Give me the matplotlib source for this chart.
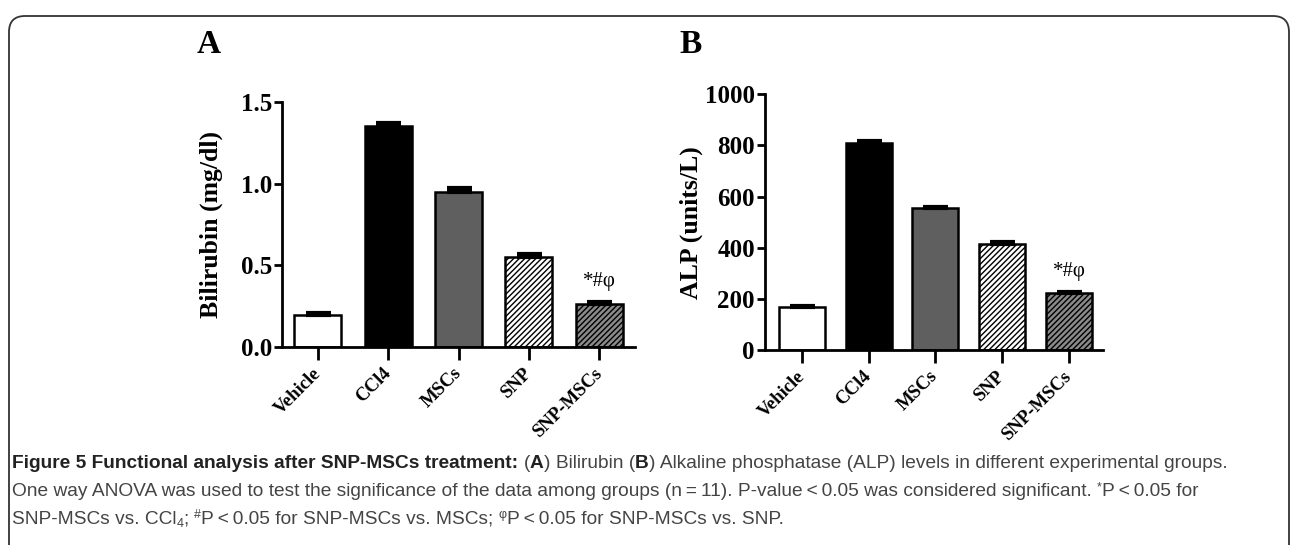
import matplotlib
matplotlib.use('Agg')
import numpy as np
from matplotlib import pyplot as plt
from matplotlib.patches import FancyBboxPatch
from matplotlib.transforms import IdentityTransform, offset_copy

groups = ['Vehicle', 'CCl4', 'MSCs', 'SNP', 'SNP-MSCs']
bilirubin = [0.196, 1.35, 0.95, 0.553, 0.263]
bilirubinErr = [0.010, 0.020, 0.025, 0.015, 0.012]
alp = [167, 811, 554, 415, 222]
alpErr = [5, 6, 7, 9, 6]
barColors = ['white', 'black', '#5f5f5f', 'white', '#8a8a8a']
barHatches = [None, None, None, '//////', '//////']
sigLabel = '*#\u03c6'

serif = ['Liberation Serif', 'DejaVu Serif']
narrow = ['Liberation Sans Narrow', 'Liberation Sans', 'DejaVu Sans']

plt.rcParams['hatch.linewidth'] = 1.0
plt.rcParams['font.family'] = serif

W, H = 1293, 545
fig = plt.figure(figsize=(W / 100, H / 100), dpi=100)

# rounded frame round the whole figure
frame = FancyBboxPatch((9, -20), 1280, 549, boxstyle='round,pad=0,rounding_size=16',
                       transform=IdentityTransform(), facecolor='none',
                       edgecolor='#333333', linewidth=1.3)
fig.patches.append(frame)


def panel(rect, values, errs, ylim, yticks, ylabel, width, xlim, labelpad):
    ax = fig.add_axes(rect)
    x = np.arange(len(values))
    for i in range(len(values)):
        ax.bar(x[i], values[i], width=width, color=barColors[i], edgecolor='black',
               linewidth=1.8, hatch=barHatches[i], zorder=2)
    ax.errorbar(x, values, yerr=[np.zeros(len(errs)), errs], fmt='none', ecolor='black',
                elinewidth=2, capsize=9, capthick=3, zorder=3)
    ax.set_xlim(xlim)
    ax.set_ylim(ylim)
    ax.set_yticks(yticks)
    ax.set_xticks(x)
    ax.set_xticklabels(groups, rotation=45, ha='right', va='center', rotation_mode='anchor',
                       fontsize=13.5, fontweight='bold')
    ax.tick_params(axis='x', length=9, width=2, pad=8)
    ax.tick_params(axis='y', length=6, width=2, labelsize=18, pad=1)
    for t in ax.get_yticklabels():
        t.set_fontweight('bold')
    for s in ['top', 'right']:
        ax.spines[s].set_visible(False)
    for s in ['left', 'bottom']:
        ax.spines[s].set_linewidth(2)
    ax.set_ylabel(ylabel, fontsize=18.5, fontweight='bold', labelpad=labelpad)
    ax.patch.set_alpha(0)
    ax.text(x[-1], values[-1] + errs[-1], sigLabel, ha='center', va='bottom',
            fontsize=15, transform=offset_copy(ax.transData, fig=fig, y=8, units='points'))
    return ax


axA = panel([282 / W, 1 - 347 / H, 353 / W, 245 / H], bilirubin, bilirubinErr, (0, 1.5),
            [0.0, 0.5, 1.0, 1.5], 'Bilirubin (mg/dl)', 0.67, (-0.51, 4.51), 13)
axA.yaxis.set_major_formatter(matplotlib.ticker.FormatStrFormatter('%.1f'))
axB = panel([764.5 / W, 1 - 350 / H, 338.5 / W, 255.7 / H], alp, alpErr, (0, 1000),
            [0, 200, 400, 600, 800, 1000], 'ALP (units/L)', 0.69, (-0.56, 4.51), 1)

fig.text(197 / W, 1 - 53 / H, 'A', fontsize=24, fontweight='bold', family=serif)
fig.text(679 / W, 1 - 53 / H, 'B', fontsize=24, fontweight='bold', family=serif)

# caption, drawn piece by piece
renderer = fig.canvas.get_renderer()
capSize = 13.8


def caption_line(y, pieces):
    xp = 12
    for txt, weight, shift in pieces:
        size = capSize * (0.65 if shift else 1)
        t = fig.text(xp / W, (H - y + shift) / H, txt, fontsize=size, fontweight=weight,
                     family=narrow, color='#222222' if weight == 'bold' else '#444444')
        xp += t.get_window_extent(renderer).width


caption_line(468, [('Figure 5 Functional analysis after SNP-MSCs treatment: ', 'bold', 0),
                   ('(', 'normal', 0), ('A', 'bold', 0), (') Bilirubin (', 'normal', 0),
                   ('B', 'bold', 0),
                   (') Alkaline phosphatase (ALP) levels in different experimental groups.', 'normal', 0)])
caption_line(496, [('One way ANOVA was used to test the significance of the data among groups (n\u2009=\u200911). '
                    'P-value\u2009<\u20090.05 was considered significant. ', 'normal', 0),
                   ('*', 'normal', 6), ('P\u2009<\u20090.05 for', 'normal', 0)])
caption_line(524, [('SNP-MSCs vs. CCl', 'normal', 0), ('4', 'normal', -3), ('; ', 'normal', 0),
                   ('#', 'normal', 6), ('P\u2009<\u20090.05 for SNP-MSCs vs. MSCs; ', 'normal', 0),
                   ('\u03c6', 'normal', 6), ('P\u2009<\u20090.05 for SNP-MSCs vs. SNP.', 'normal', 0)])

fig.savefig('out.png', dpi=100)
